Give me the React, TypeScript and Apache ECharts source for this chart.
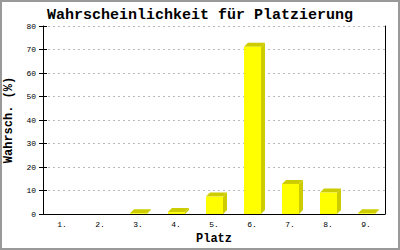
import React, { useEffect, useRef } from "react";
import * as echarts from "echarts";

const categories = ["1.", "2.", "3.", "4.", "5.", "6.", "7.", "8.", "9."];
const values = [0, 0, 0.3, 0.8, 7.4, 71.2, 12.8, 9.1, 0.3];
const yTicks = { min: 0, max: 80, interval: 10 };

const FONT = "'Liberation Mono', 'DejaVu Sans Mono', monospace";

export default function App() {
  const ref = useRef<HTMLDivElement>(null);
  useEffect(() => {
    if (!ref.current) return;
    const chart = echarts.init(ref.current, null, { renderer: "svg" });
    const W = 17;
    const D = 4;
    chart.setOption({
      animation: false,
      backgroundColor: "#ffffff",
      title: {
        text: "Wahrscheinlichkeit für Platzierung",
        left: "center",
        top: 3,
        textStyle: { fontFamily: FONT, fontWeight: "bold", fontSize: 15, color: "#000" },
      },
      grid: { left: 43, right: 15, top: 26, bottom: 36, outerBoundsMode: "none", containLabel: false },
      xAxis: {
        type: "category",
        data: categories,
        name: "Platz",
        nameLocation: "middle",
        nameGap: 19,
        nameTextStyle: { fontFamily: FONT, fontWeight: "bold", fontSize: 12, color: "#000" },
        axisLine: { lineStyle: { color: "#000", width: 1 } },
        axisTick: { show: false },
        axisLabel: { fontFamily: FONT, fontSize: 8, color: "#000", margin: 6 },
      },
      yAxis: [
        {
          type: "value",
          ...yTicks,
          name: "Wahrsch. (%)",
          nameLocation: "middle",
          nameGap: 22,
          nameTextStyle: { fontFamily: FONT, fontWeight: "bold", fontSize: 12, color: "#000" },
          axisLine: { show: true, lineStyle: { color: "#000" } },
          axisTick: { show: true, length: 4, lineStyle: { color: "#000" } },
          axisLabel: { fontFamily: FONT, fontSize: 8, color: "#000", margin: 7 },
          splitLine: { show: true, lineStyle: { color: "#bbbbbb", type: [2, 3] } },
        },
        {
          type: "value",
          ...yTicks,
          position: "left",
          axisLine: { show: false },
          axisTick: { show: true, inside: true, length: 4, lineStyle: { color: "#000" } },
          axisLabel: { show: false },
          splitLine: { show: false },
        },
        {
          type: "value",
          ...yTicks,
          position: "right",
          axisLine: { show: true, lineStyle: { color: "#000" } },
          axisTick: { show: false },
          axisLabel: { show: false },
          splitLine: { show: false },
        },
      ],
      graphic: [
        {
          type: "rect",
          shape: { x: 1, y: 1, width: 398, height: 248 },
          style: { fill: "none", stroke: "#999999", lineWidth: 2 },
          silent: true,
        },
      ],
      series: [
        {
          type: "custom",
          data: values.map((v, i) => [i, v]),
          encode: { x: 0, y: 1 },
          renderItem: (params: any, api: any) => {
            const idx = api.value(0);
            const v = api.value(1);
            if (!v) return null;
            const base = api.coord([idx, 0]);
            const top = api.coord([idx, v]);
            const bx = Math.round(base[0] - W / 2);
            const by = base[1];
            const ty = top[1];
            return {
              type: "group",
              children: [
                {
                  type: "polygon",
                  shape: { points: [[bx + W, ty], [bx + W + D, ty - D], [bx + W + D, by - D], [bx + W, by]] },
                  style: { fill: "#cccc00" },
                },
                {
                  type: "polygon",
                  shape: { points: [[bx, ty], [bx + D, ty - D], [bx + W + D, ty - D], [bx + W, ty]] },
                  style: { fill: "#cccc00" },
                },
                {
                  type: "rect",
                  shape: { x: bx, y: ty, width: W, height: by - ty },
                  style: { fill: "#ffff00" },
                },
              ],
            };
          },
        },
      ],
    });
    return () => chart.dispose();
  }, []);
  return <div ref={ref} style={{ position: "fixed", left: 0, top: 0, width: 400, height: 250 }} />;
}
